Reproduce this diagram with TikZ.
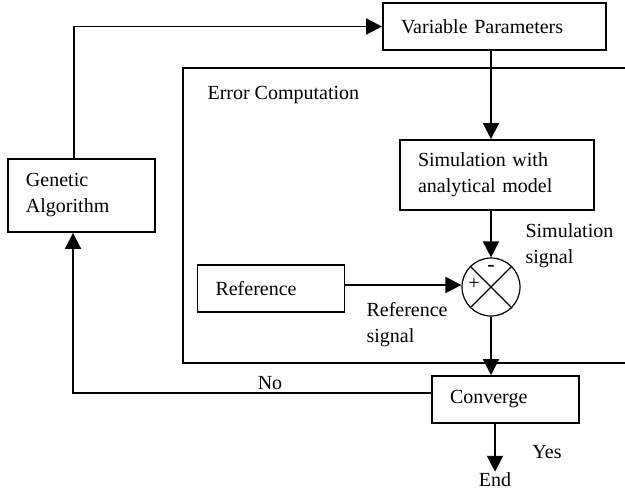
\documentclass[tikz,border=0pt]{standalone}
\usepackage{fontspec}
\setmainfont{Liberation Serif}
\usetikzlibrary{arrows.meta}

\begin{document}
\begin{tikzpicture}[x=1pt,y=-1pt,
    font=\fontsize{20}{26}\selectfont,
    block/.style={draw,line width=1.9pt,inner xsep=18pt,align=left},
    flow/.style={line width=1.9pt,-{Triangle[length=16pt,width=16pt]}}]
  \useasboundingbox (0,0) rectangle (625,493);

  % error computation frame, open to the right
  \draw[line width=1.9pt] (625,68) -- (183,68) -- (183,363) -- (625,363);
  \node[anchor=west] (errlabel) at (204,95) {Error Computation};

  \node[block,text width=187pt,minimum height=47pt] (vp) at (494.5,26.5) {Variable Parameters};
  \node[block,text width=158pt,minimum height=70pt] (sim) at (497,175) {Simulation with\\analytical model};
  \node[block,text width=111pt,minimum height=73pt] (ga) at (81.5,195.5) {Genetic\\Algorithm};
  \node[block,text width=111pt,minimum height=47pt] (ref) at (271,288.5) {Reference};
  \node[block,text width=111pt,minimum height=47pt] (conv) at (505.5,399.5) {Converge};
  \node[draw,circle,line width=1.2pt,minimum size=58pt,inner sep=0pt] (sum) at (491,287) {};
  \draw[line width=1.2pt] (sum.45) -- (sum.225) (sum.135) -- (sum.315);
  \node[font=\fontsize{22}{22}\selectfont] (minus) at (491,268) {-};
  \node[font=\fontsize{20}{20}\selectfont] (plus) at (474,284) {+};
  \node[inner sep=1pt] (end) at (495,480) {End};

  \node[anchor=west,align=left] (simsig) at (522,246) {Simulation\\signal};
  \node[anchor=west,align=left] (refsig) at (363,325) {Reference\\signal};
  \node (no) at (270,383) {No};
  \node (yes) at (547,452) {Yes};

  \coordinate (gaup) at (74,26.5);
  \coordinate (galow) at (73,393);

  \draw[flow] (ga.north -| gaup) -- (gaup) -- (vp.west);
  \draw[flow] (vp.south -| sum) -- (sim.north -| sum);
  \draw[flow] (sim.south -| sum) -- (sum.north);
  \draw[flow] (ref.east |- 0,285) -- (sum.west |- 0,285);
  \draw[flow] (sum.south) -- (sum.south |- conv.north);
  \draw[flow] (conv.south -| end) -- (end.north);
  \draw[flow] (conv.west |- galow) -- (galow) -- (galow |- ga.south);
\end{tikzpicture}
\end{document}
